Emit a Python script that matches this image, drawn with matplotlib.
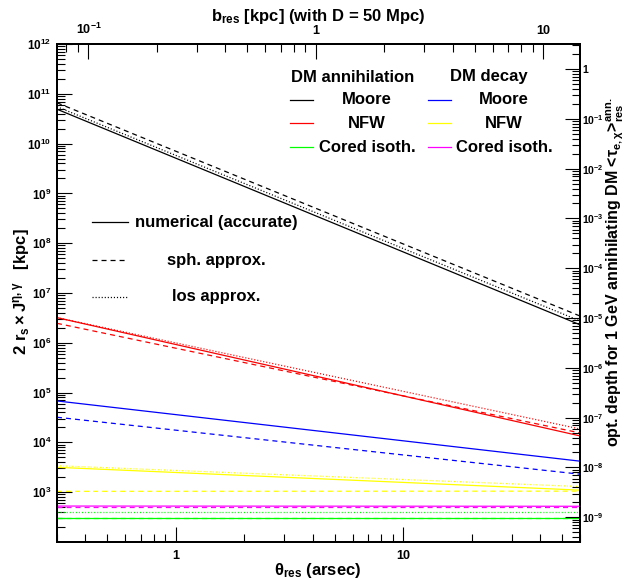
import numpy as np
import matplotlib
matplotlib.use("Agg")
import matplotlib.pyplot as plt
from matplotlib.ticker import FixedLocator, FuncFormatter, NullFormatter
from matplotlib.lines import Line2D

# resolution angle (arcsec): both ends of every curve
theta_res = [0.3, 60.0]

# 2 r_s x J  [kpc], DM annihilation (numerical / sph. approx. / los approx.)
moore_ann_num = [4.9e10, 2.3e6]
moore_ann_sph = [6.6e10, 3.45e6]
moore_ann_los = [5.5e10, 2.75e6]
nfw_ann_num = [3.2e6, 1.35e4]
nfw_ann_sph = [2.46e6, 1.55e4]
nfw_ann_los = [3.2e6, 1.86e4]
iso_ann_num = [303, 303]
iso_ann_sph = [306, 306]
iso_ann_los = [395, 395]

# DM decay
moore_dec_num = [6.8e4, 4.2e3]
moore_dec_sph = [3.2e4, 2.3e3]
nfw_dec_num = [3.16e3, 1.1e3]
nfw_dec_sph = [1.04e3, 1.05e3]
nfw_dec_los = [3.4e3, 1.3e3]
iso_dec_num = [527, 522]
iso_dec_sph = [500, 500]

# axis conversions
kpc_per_arcsec = 50000.0 * np.pi / (180 * 3600)   # D = 50 Mpc
tau_per_kpc = 3.19e-12                             # 1 GeV annihilating DM

plt.rcParams['font.family'] = ['Liberation Sans', 'DejaVu Sans']
plt.rcParams['font.weight'] = 'bold'
plt.rcParams['mathtext.fontset'] = 'custom'
plt.rcParams['mathtext.rm'] = 'Liberation Sans:bold'
plt.rcParams['mathtext.it'] = 'Liberation Sans:bold:italic'
plt.rcParams['mathtext.bf'] = 'Liberation Sans:bold'
plt.rcParams['mathtext.default'] = 'rm'
plt.rcParams['lines.scale_dashes'] = False

DASH = (0, (3.6, 2.9))
DOT = (0, (0.8, 1.4))
LW = 0.9

W, H = 626, 580
fig = plt.figure(figsize=(W / 100, H / 100), dpi=100)
ax = fig.add_axes([57 / W, 1 - 542 / H, (580 - 57) / W, (542 - 44) / H])


def px(x, y):
    return x / W, 1 - y / H


curves = [
    (moore_ann_num, 'black', '-'), (moore_ann_sph, 'black', DASH), (moore_ann_los, 'black', DOT),
    (nfw_ann_num, 'red', '-'), (nfw_ann_sph, 'red', DASH), (nfw_ann_los, 'red', DOT),
    (iso_ann_num, '#00ff00', '-'), (iso_ann_sph, '#00ff00', DASH), (iso_ann_los, '#00ff00', DOT),
    (moore_dec_num, 'blue', '-'), (moore_dec_sph, 'blue', DASH),
    (nfw_dec_num, '#ffff00', '-'), (nfw_dec_sph, '#ffff00', DASH), (nfw_dec_los, '#ffff00', DOT),
    (iso_dec_num, '#ff00ff', '-'), (iso_dec_sph, '#ff00ff', DASH),
]
for vals, col, ls in curves:
    ax.plot(theta_res, vals, color=col, linestyle=ls, lw=LW)

ax.set_xscale('log')
ax.set_yscale('log')
ax.set_xlim(0.3, 60)
ax.set_ylim(1e2, 1e12)
for s in ax.spines.values():
    s.set_linewidth(1.4)


def exp_label(v, pos=None):
    e = int(round(np.log10(v)))
    if e == 0:
        return '1'
    if e == 1:
        return '10'
    return r'$10^{%d}$' % e


def minors(lo, hi):
    out = []
    for d in range(lo, hi):
        out += [m * 10.0 ** d for m in range(2, 10)]
    return out


ax.xaxis.set_major_locator(FixedLocator([1, 10]))
ax.xaxis.set_major_formatter(FuncFormatter(exp_label))
ax.xaxis.set_minor_locator(FixedLocator(minors(-1, 2)))
ax.xaxis.set_minor_formatter(NullFormatter())
ax.yaxis.set_major_locator(FixedLocator(10.0 ** np.arange(3, 13)))
ax.yaxis.set_major_formatter(FuncFormatter(exp_label))
ax.yaxis.set_minor_locator(FixedLocator(minors(2, 12)))
ax.yaxis.set_minor_formatter(NullFormatter())
ax.tick_params(which='both', direction='in', width=0.8, top=False, right=False)
ax.tick_params(which='major', length=11)
ax.tick_params(which='minor', length=5.5)
ax.tick_params(axis='x', pad=6, labelsize=9)
ax.tick_params(axis='y', pad=4, labelsize=8.5)

# top axis: impact parameter in kpc
axt = ax.twiny()
axt.set_xscale('log')
axt.set_xlim(0.3 * kpc_per_arcsec, 60 * kpc_per_arcsec)
axt.xaxis.set_major_locator(FixedLocator([0.1, 1, 10]))
axt.xaxis.set_major_formatter(FuncFormatter(exp_label))
axt.xaxis.set_minor_locator(FixedLocator(minors(-2, 2)))
axt.xaxis.set_minor_formatter(NullFormatter())
axt.tick_params(which='both', direction='in', width=0.8, labelsize=9, pad=5)
axt.tick_params(which='major', length=11)
axt.tick_params(which='minor', length=5.5)

# right axis: optical depth
axr = ax.twinx()
axr.set_yscale('log')
axr.set_ylim(1e2 * tau_per_kpc, 1e12 * tau_per_kpc)
axr.yaxis.set_major_locator(FixedLocator(10.0 ** np.arange(-9, 1)))
axr.yaxis.set_major_formatter(FuncFormatter(exp_label))
axr.yaxis.set_minor_locator(FixedLocator(minors(-10, 1)))
axr.yaxis.set_minor_formatter(NullFormatter())
axr.tick_params(which='both', direction='in', width=0.8, labelsize=7.5, pad=1.5)
axr.tick_params(which='major', length=11)
axr.tick_params(which='minor', length=5.5)
for a in (axt, axr):
    for s in a.spines.values():
        s.set_linewidth(1.4)

# axis titles
fs = 12
fig.text(*px(318, 571), r'$\theta_{res}$ (arsec)', ha='center', va='center', fontsize=fs)
fig.text(*px(318, 16), r'$b_{res}$ [kpc] (with D = 50 Mpc)', ha='center', va='center', fontsize=fs)
fig.text(*px(21, 292), r'$2\ r_{s}\times J^{\eta,\gamma}$   [kpc]', ha='center', va='center',
         rotation=90, fontsize=fs)
fig.text(*px(615, 272), r'opt. depth for 1 GeV annihilating DM <$\tau_{e,\chi}$>$^{ann.}_{res}$',
         ha='center', va='center', rotation=90, fontsize=11.5)

# legend: halo profiles
fig.text(*px(353, 77), 'DM annihilation', ha='center', va='center', fontsize=fs)
fig.text(*px(489, 77), 'DM decay', ha='center', va='center', fontsize=fs)
profile_names = ['Moore', 'NFW', 'Cored isoth.']
ann_colors = ['black', 'red', '#00ff00']
dec_colors = ['blue', '#ffff00', '#ff00ff']
rows_y = [100, 123, 147]
for name, ca, cd, y in zip(profile_names, ann_colors, dec_colors, rows_y):
    fig.add_artist(Line2D([290 / W, 313 / W], [1 - y / H] * 2, color=ca, lw=LW))
    fig.text(*px(367, y), name, ha='center', va='center', fontsize=fs)
    fig.add_artist(Line2D([428 / W, 451 / W], [1 - y / H] * 2, color=cd, lw=LW))
    fig.text(*px(504, y), name, ha='center', va='center', fontsize=fs)

# legend: method
method_names = ['numerical (accurate)', 'sph. approx.', 'los approx.']
method_styles = ['-', DASH, DOT]
for name, ls, y in zip(method_names, method_styles, [222, 260, 297]):
    fig.add_artist(Line2D([92 / W, 128 / W], [1 - y / H] * 2, color='black', lw=LW, linestyle=ls))
    fig.text(*px(216, y), name, ha='center', va='center', fontsize=fs)

fig.savefig('out.png', dpi=100)
